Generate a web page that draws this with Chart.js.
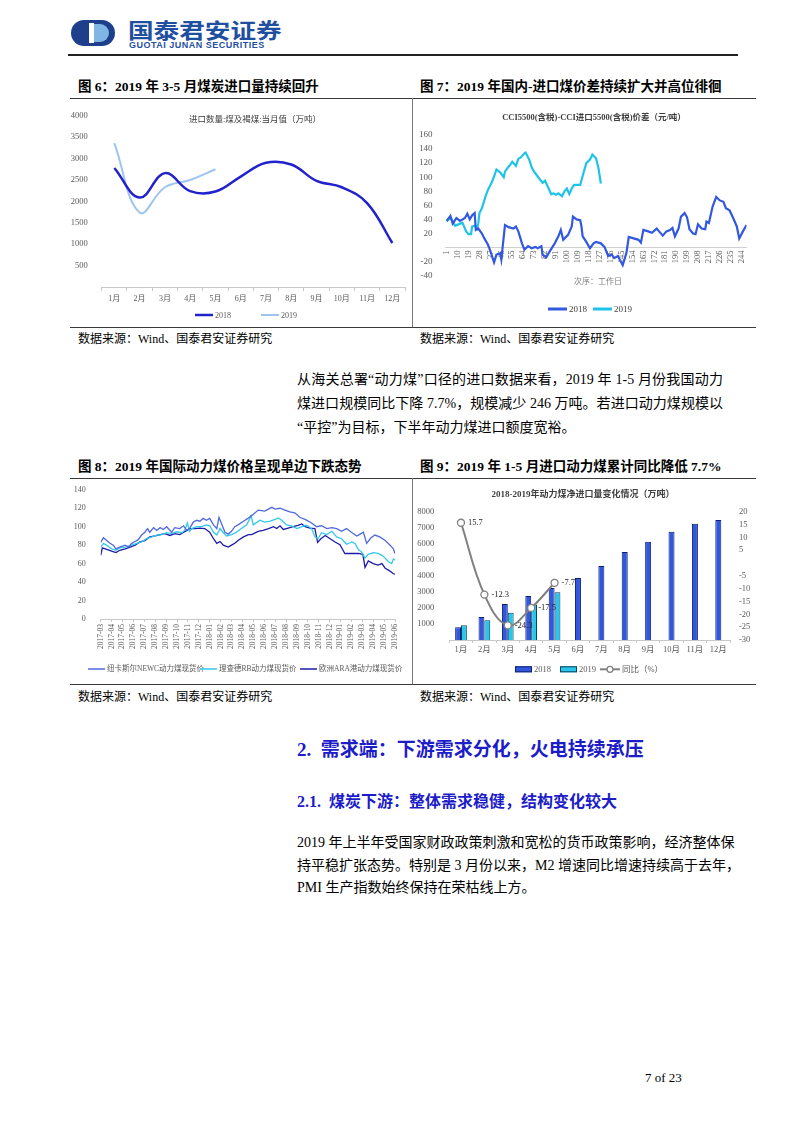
<!DOCTYPE html>
<html><head><meta charset="utf-8">
<script src="https://cdn.jsdelivr.net/npm/chart.js@4.4.1/dist/chart.umd.min.js"></script>
<style>
body{margin:0;background:#fff;width:802px;height:1133px;position:relative;overflow:hidden;font-family:"Liberation Serif","Noto Sans CJK SC",serif;color:#000;}
.hr{position:absolute;height:1px;background:#3a3a3a;}
.vr{position:absolute;width:1px;background:#7a7a7a;}
.ft{position:absolute;font-weight:bold;font-size:13.5px;line-height:16px;white-space:nowrap;}
.src{position:absolute;font-size:12px;line-height:14px;white-space:nowrap;}
.pl{position:absolute;font-size:14px;line-height:18px;white-space:nowrap;text-align:justify;text-align-last:justify;}
.pl.last{text-align:left;text-align-last:left;}
.cw{position:absolute;}
canvas{display:block;}
.h1{position:absolute;left:297px;top:739px;font-size:19px;line-height:22px;font-weight:bold;color:#1c1cc8;white-space:nowrap;}
.h2{position:absolute;left:297px;top:792px;font-size:16px;line-height:20px;font-weight:bold;color:#1c1cc8;white-space:nowrap;}
</style></head>
<body>
<!-- header -->
<svg style="position:absolute;left:70px;top:19px" width="46" height="28" viewBox="0 0 46 28">
  <path d="M14 1 H32 A13 13 0 0 1 32 27 H14 A13 13 0 0 1 14 1 Z" fill="#1d3f8c"/>
  <rect x="19" y="4" width="5" height="20" fill="#ffffff"/>
  <path d="M24 5 H30 A9 9 0 0 1 30 23 H24 Z" fill="#7fb6e3"/>
  <path d="M19 5 H14 A9 9 0 0 0 14 23 H19 Z" fill="#1d3f8c"/>
</svg>
<div style="position:absolute;left:128px;top:17px;font-family:'Noto Sans CJK SC';font-weight:bold;font-size:21px;line-height:24px;color:#1f4f9f;white-space:nowrap;transform:scaleX(1.22);transform-origin:left center;">国泰君安证券</div>
<div style="position:absolute;left:129px;top:40px;font-family:'Liberation Sans';font-weight:bold;font-size:9px;line-height:10px;letter-spacing:0.5px;color:#1f4f9f;white-space:nowrap;">GUOTAI JUNAN SECURITIES</div>
<div class="hr" style="left:68px;top:54px;width:670px;height:1.5px;background:#222"></div>

<!-- row 1 -->
<div class="ft" style="left:78px;top:79px">图 6：2019 年 3-5 月煤炭进口量持续回升</div>
<div class="ft" style="left:420px;top:79px">图 7：2019 年国内-进口煤价差持续扩大并高位徘徊</div>
<div class="hr" style="left:70px;top:98px;width:686px"></div>
<div class="vr" style="left:412px;top:98px;height:229px"></div>
<div class="cw" style="left:70px;top:99px"><canvas id="c6" width="340" height="228"></canvas></div>
<div class="cw" style="left:413px;top:99px"><canvas id="c7" width="342" height="228"></canvas></div>
<div class="hr" style="left:70px;top:327px;width:686px"></div>
<div class="src" style="left:78px;top:332px">数据来源：Wind、国泰君安证券研究</div>
<div class="src" style="left:420px;top:332px">数据来源：Wind、国泰君安证券研究</div>

<div class="pl" style="left:297px;top:371px;width:426px">从海关总署“动力煤”口径的进口数据来看，2019 年 1-5 月份我国动力</div>
<div class="pl" style="left:297px;top:395px;width:426px">煤进口规模同比下降 7.7%，规模减少 246 万吨。若进口动力煤规模以</div>
<div class="pl last" style="left:297px;top:419px">“平控”为目标，下半年动力煤进口额度宽裕。</div>

<!-- row 2 -->
<div class="ft" style="left:78px;top:459px">图 8：2019 年国际动力煤价格呈现单边下跌态势</div>
<div class="ft" style="left:420px;top:459px">图 9：2019 年 1-5 月进口动力煤累计同比降低 7.7%</div>
<div class="hr" style="left:70px;top:478px;width:686px"></div>
<div class="vr" style="left:412px;top:478px;height:206px"></div>
<div class="cw" style="left:70px;top:478px"><canvas id="c8" width="340" height="205"></canvas></div>
<div class="cw" style="left:413px;top:478px"><canvas id="c9" width="342" height="205"></canvas></div>
<div class="hr" style="left:70px;top:684px;width:686px"></div>
<div class="src" style="left:78px;top:690px">数据来源：Wind、国泰君安证券研究</div>
<div class="src" style="left:420px;top:690px">数据来源：Wind、国泰君安证券研究</div>

<div class="h1">2.&nbsp;&nbsp;需求端：下游需求分化，火电持续承压</div>
<div class="h2">2.1.&nbsp;&nbsp;煤炭下游：整体需求稳健，结构变化较大</div>

<div class="pl" style="left:297px;top:834px;width:436px">2019 年上半年受国家财政政策刺激和宽松的货币政策影响，经济整体保</div>
<div class="pl" style="left:297px;top:857px;width:430px">持平稳扩张态势。特别是 3 月份以来，M2 增速同比增速持续高于去年，</div>
<div class="pl last" style="left:297px;top:879px">PMI 生产指数始终保持在荣枯线上方。</div>

<div style="position:absolute;left:645px;top:1070px;font-size:13px;line-height:16px;white-space:nowrap;">7 of 23</div>

<script>
// ---------------- DATA ----------------
const c6Months = ['1月','2月','3月','4月','5月','6月','7月','8月','9月','10月','11月','12月'];
const c6Y2018 = [2780, 2090, 2660, 2240, 2230, 2580, 2900, 2860, 2480, 2330, 1960, 1030];
const c6Y2019 = [3360, 1740, 2330, 2500, 2750];

const c7TickVals = [1,10,19,28,37,46,55,64,73,82,91,100,109,118,127,136,145,154,163,172,181,190,199,208,217,226,235,244];
const c7S2018 = [[1,38],[4,45],[6,34],[9,42],[12,38],[16,42],[18,48],[20,40],[22,46],[24,49],[25,25],[27,27],[30,20],[32,13],[35,4],[37,-5],[40,-21],[42,-10],[45,-8],[46,-17],[49,32],[52,29],[56,27],[58,30],[60,23],[63,6],[65,-3],[68,2],[71,-1],[74,1],[76,-1],[79,2],[80,-10],[83,-14],[86,-5],[90,6],[93,16],[95,25],[97,11],[101,18],[104,30],[105,44],[108,40],[111,39],[112,30],[113,16],[116,8],[119,-1],[122,6],[124,8],[128,6],[131,1],[134,-12],[137,-10],[139,-15],[142,-12],[146,-25],[149,-8],[151,15],[155,13],[159,11],[161,7],[163,25],[167,23],[170,21],[174,27],[176,23],[179,17],[182,23],[185,25],[187,28],[189,16],[192,27],[194,44],[197,49],[199,43],[201,26],[204,20],[206,19],[208,33],[211,27],[214,26],[215,37],[217,35],[220,58],[223,72],[226,67],[229,65],[231,56],[234,53],[237,42],[240,30],[242,13],[245,23],[248,32]];
const c7S2019 = [[1,37],[4,43],[6,37],[8,31],[12,34],[14,35],[17,23],[19,19],[21,19],[22,30],[24,31],[26,27],[27,34],[28,49],[30,56],[32,67],[33,73],[35,82],[37,89],[38,92],[40,101],[42,111],[45,107],[48,100],[49,108],[51,113],[53,117],[55,122],[58,116],[60,126],[62,128],[65,134],[66,135],[69,125],[71,114],[73,108],[76,101],[80,92],[82,95],[85,84],[87,76],[89,77],[91,75],[93,77],[96,73],[98,80],[100,84],[102,76],[104,84],[106,89],[109,89],[111,89],[114,108],[116,120],[119,125],[121,132],[124,127],[126,113],[128,91]];

const c8Months = ['2017-03','2017-04','2017-05','2017-06','2017-07','2017-08','2017-09','2017-10','2017-11','2017-12','2018-01','2018-02','2018-03','2018-04','2018-05','2018-06','2018-07','2018-08','2018-09','2018-10','2018-11','2018-12','2019-01','2019-02','2019-03','2019-04','2019-05','2019-06'];
const c8NEWC = [[0,83],[0.25,88],[0.55,85],[0.85,82],[1.15,80],[1.4,76],[1.75,78],[2.25,80],[2.55,78],[2.85,82],[3.15,84],[3.45,86],[3.75,91],[4.05,94],[4.3,98],[4.5,94],[4.85,99],[5.15,96],[5.45,99],[5.75,97],[6.05,100],[6.5,94],[6.8,99],[7.25,98],[7.6,101],[7.9,96],[8.2,99],[8.5,105],[8.8,107],[9.1,106],[9.4,109],[9.7,107],[10.0,109],[10.35,102],[10.65,98],[10.85,110],[11.1,103],[11.4,94],[11.7,92],[12.0,95],[12.3,100],[12.6,102],[13.1,106],[13.5,109],[13.85,112],[14.45,118],[15.05,117],[15.7,121],[16.0,119],[16.45,120],[16.9,118],[17.35,116],[17.8,115],[18.3,110],[18.75,108],[19.35,104],[19.8,100],[20.25,101],[20.75,98],[21.2,99],[21.65,98],[22.1,95],[22.55,98],[23.0,94],[23.5,90],[23.8,92],[24.1,94],[24.4,82],[24.8,88],[25.15,91],[25.6,89],[26.1,85],[26.55,80],[26.85,76],[27.0,71]];
const c8RB = [[0,78],[0.25,82],[0.55,80],[1.0,76],[1.4,74.5],[1.75,77],[2.25,78],[2.85,80],[3.3,82],[3.75,83.5],[4.2,87],[4.7,89],[5.15,91],[5.6,91.5],[6.05,93.5],[6.5,92.5],[6.95,94.5],[7.45,93.5],[7.7,96],[7.95,104],[8.15,95],[8.35,98],[8.8,100],[9.25,100],[9.7,102],[10.0,101],[10.35,94],[10.65,91],[10.95,98],[11.25,93.5],[11.55,90],[12.0,91.5],[12.45,94],[12.9,98],[13.4,102],[13.6,107],[13.8,112],[14.0,102],[14.6,107],[15.05,105],[15.55,106],[16.0,108],[16.3,109.5],[16.6,107],[17.05,102],[17.5,101],[18.0,98],[18.45,100],[18.9,101.5],[19.35,98],[19.65,89],[19.95,87],[20.25,93.5],[20.75,91.5],[21.2,95],[21.65,89],[22.1,87],[22.55,81],[23.05,83.5],[23.35,81.5],[23.65,75],[23.95,72.5],[24.25,66],[24.55,70],[25.0,72],[25.45,71],[25.8,69],[26.1,66],[26.4,62],[26.7,60],[26.85,65],[27.0,64]];
const c8ARA = [[0,69],[0.15,77],[0.55,75.5],[1.0,73.5],[1.4,72],[1.75,74.5],[2.25,76],[2.7,78],[3.15,80],[3.6,83.5],[4.05,85],[4.5,89],[5.0,90],[5.45,91.5],[5.9,92.5],[6.35,90.5],[6.8,92.5],[7.25,91.5],[7.75,95],[8.2,98],[8.65,98],[9.1,98.5],[9.55,98],[10.0,94],[10.35,87],[10.65,82],[10.95,84],[11.25,80],[11.7,78],[12.0,80],[12.3,82],[12.6,85],[13.1,89],[13.55,91.5],[13.85,91.5],[14.45,95],[14.9,96],[15.4,98],[15.85,100],[16.15,98],[16.45,101],[16.75,97],[17.2,98.5],[17.65,100],[18.1,101.5],[18.45,103],[18.75,100],[19.2,98.5],[19.65,98],[19.9,83],[20.2,87],[20.6,90.5],[21.05,87],[21.5,83.5],[21.95,80.5],[22.4,71],[23.0,71],[23.65,71],[24.05,70],[24.25,56],[24.55,63],[25.0,60],[25.45,58.5],[25.8,60],[26.1,55],[26.4,53],[26.65,51],[26.85,49],[27.0,48.5]];

const c9Months = ['1月','2月','3月','4月','5月','6月','7月','8月','9月','10月','11月','12月'];
const c9Y2018 = [790, 1430, 2240, 2740, 3240, 3860, 4610, 5480, 6120, 6750, 7250, 7480];
const c9Y2019 = [915, 1230, 1700, 2220, 2970];
const c9Yoy = [15.7, -12.3, -24.3, -17.5, -7.7];

// ---------------- HELPERS ----------------
const FAM = '"Liberation Serif","Noto Sans CJK SC",serif';
const TICK = '#595959';
const hideZero = v => (v === 0 ? '' : v);
const toXY = arr => arr.map(p => ({x: p[0], y: p[1]}));
const pad12 = arr => c6Months.map((_, i) => (i < arr.length ? arr[i] : null));

const overlay = {
  id: 'overlay',
  afterDraw(chart, args, o) {
    const ctx = chart.ctx;
    ctx.save();
    ctx.textBaseline = 'middle';
    (o.texts || []).forEach(t => {
      ctx.font = t.font; ctx.fillStyle = t.color || '#404040'; ctx.textAlign = t.align || 'center';
      ctx.fillText(t.text, t.x, t.y);
    });
    (o.legend || []).forEach(it => {
      const ds = chart.data.datasets[it.ds];
      if (it.kind === 'line' || it.kind === 'marker') {
        ctx.strokeStyle = ds.borderColor; ctx.lineWidth = it.lw || ds.borderWidth;
        ctx.beginPath(); ctx.moveTo(it.x, it.y); ctx.lineTo(it.x + it.w, it.y); ctx.stroke();
        if (it.kind === 'marker') {
          ctx.beginPath(); ctx.arc(it.x + it.w / 2, it.y, 3, 0, Math.PI * 2);
          ctx.fillStyle = '#fff'; ctx.fill(); ctx.lineWidth = 1.3; ctx.stroke();
        }
      } else {
        ctx.fillStyle = ds.backgroundColor; ctx.fillRect(it.x, it.y - it.h / 2, it.w, it.h);
        ctx.strokeStyle = ds.borderColor; ctx.lineWidth = 1; ctx.strokeRect(it.x + 0.5, it.y - it.h / 2 + 0.5, it.w - 1, it.h - 1);
      }
      ctx.font = it.font; ctx.fillStyle = it.color || TICK; ctx.textAlign = 'left';
      ctx.fillText(ds.label, it.x + it.w + (it.gap || 2), it.y + 0.5);
    });
    ctx.restore();
  }
};

const pointLabels = {
  id: 'pointLabels',
  afterDatasetsDraw(chart, args, o) {
    if (!o || o.ds === undefined) return;
    const meta = chart.getDatasetMeta(o.ds);
    const ds = chart.data.datasets[o.ds];
    const ctx = chart.ctx;
    ctx.save();
    ctx.font = o.font; ctx.fillStyle = o.color; ctx.textAlign = 'left'; ctx.textBaseline = 'middle';
    meta.data.forEach((pt, i) => {
      const v = ds.data[i];
      if (v === null || v === undefined) return;
      ctx.fillText(String(v), pt.x + o.dx, pt.y + (o.dy || 0));
    });
    ctx.restore();
  }
};

const base = {responsive: false, animation: false, devicePixelRatio: 1, events: []};

// ---------------- CHART 6 ----------------
new Chart(document.getElementById('c6'), {
  type: 'line',
  data: {
    labels: c6Months,
    datasets: [
      {label: '2018', data: c6Y2018, borderColor: '#2222cc', borderWidth: 2.5, tension: 0.4, pointRadius: 0, fill: false},
      {label: '2019', data: pad12(c6Y2019), borderColor: '#9fc5ee', borderWidth: 2, tension: 0.4, pointRadius: 0, fill: false}
    ]
  },
  options: Object.assign({}, base, {
    layout: {padding: {top: 16.7, right: 5, bottom: 0, left: 0}},
    plugins: {
      legend: {display: false}, tooltip: {enabled: false},
      overlay: {
        texts: [{text: '进口数量:煤及褐煤:当月值（万吨）', x: 185, y: 21, font: '8.5px ' + FAM, color: '#404040'}],
        legend: [
          {ds: 0, kind: 'line', x: 125, y: 216, w: 18, lw: 2.5, font: '8px ' + FAM},
          {ds: 1, kind: 'line', x: 191, y: 216, w: 18, lw: 2, font: '8px ' + FAM}
        ]
      }
    },
    scales: {
      x: {
        offset: true,
        grid: {display: true, offset: true, drawOnChartArea: false, drawTicks: true, tickLength: 4, color: '#c8c8c8'},
        border: {display: true, color: '#c8c8c8'},
        ticks: {color: TICK, font: {family: FAM, size: 8}, padding: 3, maxRotation: 0, autoSkip: false},
        afterFit(s) { s.height = 39.9; }
      },
      y: {
        min: 0, max: 4000,
        grid: {display: false}, border: {display: false},
        ticks: {stepSize: 500, autoSkip: false, callback: hideZero, color: TICK, font: {family: FAM, size: 8.5}, padding: 6},
        afterFit(s) { s.width = 31.7; }
      }
    }
  }),
  plugins: [overlay]
});

// ---------------- CHART 7 ----------------
new Chart(document.getElementById('c7'), {
  type: 'line',
  data: {
    datasets: [
      {label: '2018', data: toXY(c7S2018), borderColor: '#3358e0', borderWidth: 2.2, tension: 0, pointRadius: 0, fill: false},
      {label: '2019', data: toXY(c7S2019), borderColor: '#1fc3ea', borderWidth: 2.2, tension: 0, pointRadius: 0, fill: false}
    ]
  },
  options: Object.assign({}, base, {
    layout: {padding: {top: 36, right: 8.3, bottom: 51.3, left: 0}},
    plugins: {
      legend: {display: false}, tooltip: {enabled: false},
      overlay: {
        texts: [
          {text: 'CCI5500(含税)-CCI进口5500(含税)价差（元/吨）', x: 181, y: 18.3, font: 'bold 8.5px ' + FAM, color: '#404040'},
          {text: '次序：工作日', x: 185, y: 183, font: '8px ' + FAM, color: '#7f7f7f'}
        ],
        legend: [
          {ds: 0, kind: 'line', x: 135, y: 210, w: 19, lw: 3, font: '9px ' + FAM, color: '#404040'},
          {ds: 1, kind: 'line', x: 180, y: 210, w: 19, lw: 3, font: '9px ' + FAM, color: '#404040'}
        ]
      }
    },
    scales: {
      x: {
        type: 'linear', min: 0, max: 248, position: {y: 0},
        afterBuildTicks(s) { s.ticks = c7TickVals.map(v => ({value: v})); },
        grid: {display: false, drawTicks: false},
        border: {display: true, color: '#d0d0d0'},
        ticks: {color: TICK, font: {family: FAM, size: 8.5}, padding: 3, minRotation: 90, maxRotation: 90, autoSkip: false}
      },
      y: {
        min: -40, max: 160,
        grid: {display: false}, border: {display: false},
        ticks: {stepSize: 20, autoSkip: false, callback: hideZero, color: TICK, font: {family: FAM, size: 9}, padding: 5},
        afterFit(s) { s.width = 32.5; }
      }
    }
  }),
  plugins: [overlay]
});

// ---------------- CHART 8 ----------------
new Chart(document.getElementById('c8'), {
  type: 'line',
  data: {
    datasets: [
      {label: '纽卡斯尔NEWC动力煤现货价', data: toXY(c8NEWC), borderColor: '#5068dc', borderWidth: 1.3, tension: 0, pointRadius: 0, fill: false},
      {label: '理查德RB动力煤现货价', data: toXY(c8RB), borderColor: '#33c8ea', borderWidth: 1.3, tension: 0, pointRadius: 0, fill: false},
      {label: '欧洲ARA港动力煤现货价', data: toXY(c8ARA), borderColor: '#1c1ca8', borderWidth: 1.3, tension: 0, pointRadius: 0, fill: false}
    ]
  },
  options: Object.assign({}, base, {
    layout: {padding: {top: 11.3, right: 15, bottom: 0, left: 0}},
    plugins: {
      legend: {display: false}, tooltip: {enabled: false},
      overlay: {
        legend: [
          {ds: 0, kind: 'line', x: 18, y: 191, w: 17, lw: 1.5, font: '7.5px ' + FAM},
          {ds: 1, kind: 'line', x: 130, y: 191, w: 17, lw: 1.5, font: '7.5px ' + FAM},
          {ds: 2, kind: 'line', x: 230, y: 191, w: 17, lw: 1.5, font: '7.5px ' + FAM}
        ]
      }
    },
    scales: {
      x: {
        type: 'linear', min: 0, max: 27,
        grid: {display: true, drawOnChartArea: false, drawTicks: true, tickLength: 3, color: '#c8c8c8'},
        border: {display: true, color: '#c8c8c8'},
        ticks: {stepSize: 1, autoSkip: false, minRotation: 90, maxRotation: 90, color: TICK, font: {family: FAM, size: 7.5}, padding: 2,
          callback: v => (Number.isInteger(v) ? c8Months[v] : '')},
        afterFit(s) { s.height = 64; }
      },
      y: {
        min: 0, max: 140,
        grid: {display: false}, border: {display: false},
        ticks: {stepSize: 20, autoSkip: false, color: TICK, font: {family: FAM, size: 8}, padding: 7},
        afterFit(s) { s.width = 30.7; }
      }
    }
  }),
  plugins: [overlay]
});

// ---------------- CHART 9 ----------------
new Chart(document.getElementById('c9'), {
  type: 'bar',
  data: {
    labels: c9Months,
    datasets: [
      {type: 'bar', label: '2018', data: c9Y2018, backgroundColor: '#3157df', borderColor: '#0f1f70', borderWidth: 1, yAxisID: 'y',
        skipNull: true, barPercentage: 1, categoryPercentage: 0.5, maxBarThickness: 6, order: 1},
      {type: 'bar', label: '2019', data: pad12(c9Y2019), backgroundColor: '#25c8ec', borderColor: '#0c3f5a', borderWidth: 1, yAxisID: 'y',
        skipNull: true, barPercentage: 1, categoryPercentage: 0.5, maxBarThickness: 6, order: 1},
      {type: 'line', label: '同比（%）', data: pad12(c9Yoy), yAxisID: 'y1', borderColor: '#808080', borderWidth: 2, tension: 0.4,
        pointRadius: 3.5, pointBackgroundColor: '#ffffff', pointBorderColor: '#808080', pointBorderWidth: 1.3, fill: false, order: 0}
    ]
  },
  options: Object.assign({}, base, {
    layout: {padding: {top: 33.7, right: 0, bottom: 0, left: 0}},
    plugins: {
      legend: {display: false}, tooltip: {enabled: false},
      pointLabels: {ds: 2, font: '8.5px ' + FAM, color: '#262626', dx: 7, dy: 0},
      overlay: {
        texts: [{text: '2018-2019年动力煤净进口量变化情况（万吨）', x: 170, y: 17, font: 'bold 9px ' + FAM, color: '#404040'}],
        legend: [
          {ds: 0, kind: 'box', x: 102, y: 191.3, w: 17, h: 6, font: '8.5px ' + FAM},
          {ds: 1, kind: 'box', x: 147, y: 191.3, w: 17, h: 6, font: '8.5px ' + FAM},
          {ds: 2, kind: 'marker', x: 187, y: 191.3, w: 20, lw: 2, font: '8.5px ' + FAM}
        ]
      }
    },
    scales: {
      x: {
        grid: {display: true, offset: true, drawOnChartArea: false, drawTicks: true, tickLength: 3, color: '#c8c8c8'},
        border: {display: true, color: '#c8c8c8'},
        ticks: {color: TICK, font: {family: FAM, size: 8.5}, padding: 2, maxRotation: 0, autoSkip: false},
        afterFit(s) { s.height = 43; }
      },
      y: {
        position: 'left', min: 0, max: 8000,
        grid: {display: false}, border: {display: false},
        ticks: {stepSize: 1000, autoSkip: false, callback: hideZero, color: TICK, font: {family: FAM, size: 8.5}, padding: 7},
        afterFit(s) { s.width = 36.3; }
      },
      y1: {
        position: 'right', min: -30, max: 20,
        grid: {display: false, drawTicks: false}, border: {display: false},
        ticks: {stepSize: 5, autoSkip: false, callback: hideZero, color: TICK, font: {family: FAM, size: 8.5}, padding: 9},
        afterFit(s) { s.width = 25; }
      }
    }
  }),
  plugins: [overlay, pointLabels]
});
</script>
</body></html>
